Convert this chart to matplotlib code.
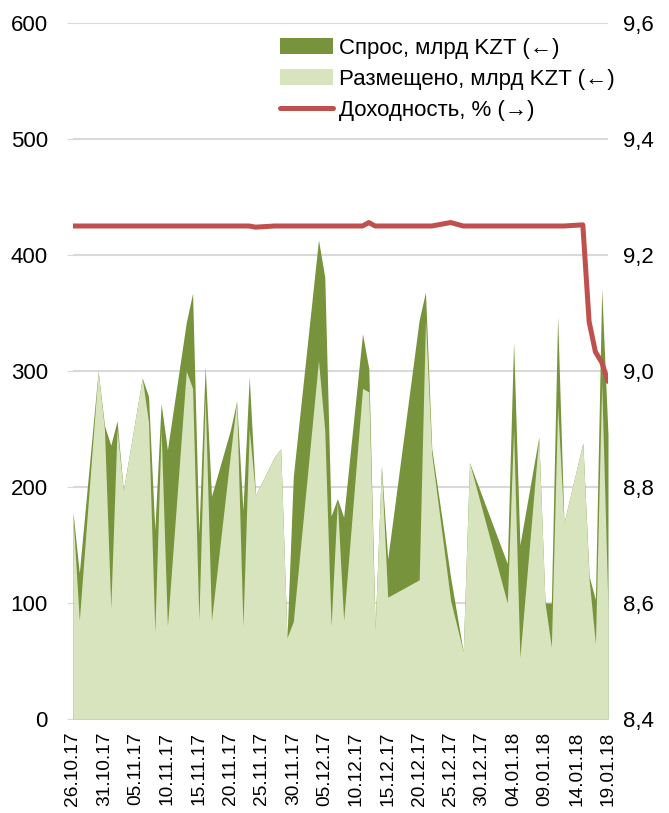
import matplotlib
matplotlib.use("Agg")
import matplotlib.pyplot as plt
import pandas as pd
from matplotlib.patches import Patch
from matplotlib.lines import Line2D
from matplotlib.ticker import FuncFormatter

# trading days (weekends / holidays skipped, Excel date axis joins them with straight lines)
dates = [
    "26.10.17", "27.10.17", "30.10.17", "31.10.17", "01.11.17", "02.11.17", "03.11.17",
    "06.11.17", "07.11.17", "08.11.17", "09.11.17", "10.11.17",
    "13.11.17", "14.11.17", "15.11.17", "16.11.17", "17.11.17",
    "20.11.17", "21.11.17", "22.11.17", "23.11.17", "24.11.17",
    "27.11.17", "28.11.17", "29.11.17", "30.11.17",
    "04.12.17", "05.12.17", "06.12.17", "07.12.17", "08.12.17",
    "11.12.17", "12.12.17", "13.12.17", "14.12.17", "15.12.17",
    "20.12.17", "21.12.17", "22.12.17",
    "25.12.17", "27.12.17", "28.12.17",
    "03.01.18", "04.01.18", "05.01.18",
    "08.01.18", "09.01.18", "10.01.18", "11.01.18", "12.01.18",
    "15.01.18", "16.01.18", "17.01.18", "18.01.18", "19.01.18",
]
demand = [
    178, 126, 300, 253, 236, 257, 197,
    294, 278, 163, 272, 232,
    342, 367, 160, 304, 192,
    249, 274, 180, 295, 193,
    226, 233, 70, 209,
    413, 381, 175, 190, 174,
    332, 302, 78, 218, 138,
    344, 368, 233,
    122, 58, 221,
    134, 325, 150,
    243, 100, 100, 347, 169,
    238, 123, 103, 371, 245,
]
placed = [
    175, 85, 300, 250, 96, 250, 197,
    294, 256, 75, 250, 80,
    300, 285, 85, 278, 85,
    228, 274, 80, 250, 193,
    226, 233, 70, 84,
    309, 249, 80, 188, 85,
    285, 282, 77, 218, 105,
    120, 344, 228,
    102, 58, 221,
    100, 250, 53,
    243, 100, 62, 270, 169,
    238, 120, 65, 290, 95,
]
yield_pct = [
    9.25, 9.25, 9.25, 9.25, 9.25, 9.25, 9.25,
    9.25, 9.25, 9.25, 9.25, 9.25,
    9.25, 9.25, 9.25, 9.25, 9.25,
    9.25, 9.25, 9.25, 9.25, 9.248,
    9.25, 9.25, 9.25, 9.25,
    9.25, 9.25, 9.25, 9.25, 9.25,
    9.25, 9.256, 9.25, 9.25, 9.25,
    9.25, 9.25, 9.25,
    9.256, 9.25, 9.25,
    9.25, 9.25, 9.25,
    9.25, 9.25, 9.25, 9.25, 9.25,
    9.252, 9.085, 9.033, 9.015, 8.982,
]

labels = ["Спрос, млрд KZT (←)", "Размещено, млрд KZT (←)", "Доходность, % (→)"]

DARK = "#77933C"
LIGHT = "#D7E4BD"
RED = "#C0504D"
GRID = "#D9D9D9"

plt.rcParams["font.family"] = ["Liberation Sans", "DejaVu Sans"]
plt.rcParams["font.size"] = 16

x = pd.to_datetime(dates, format="%d.%m.%y")

fig = plt.figure(figsize=(6.69, 8.13), dpi=100)
ax = fig.add_axes([73 / 669, 94 / 813, 535 / 669, 696 / 813])
ax2 = ax.twinx()

ax.fill_between(x, demand, 0, color=DARK, linewidth=0, zorder=2)
ax.fill_between(x, placed, 0, color=LIGHT, linewidth=0, zorder=3)
ax2.plot(x, yield_pct, color=RED, linewidth=3.6, solid_capstyle="round", solid_joinstyle="round")

ax.set_ylim(0, 600)
ax.set_yticks(range(0, 601, 100))
ax.yaxis.grid(True, color=GRID, linewidth=1.5, zorder=0)
ax.set_axisbelow(True)
ax2.set_ylim(8.4, 9.6)
ax2.set_yticks([8.4, 8.6, 8.8, 9.0, 9.2, 9.4, 9.6])
ax2.yaxis.set_major_formatter(FuncFormatter(lambda v, p: f"{v:.1f}".replace(".", ",")))

ticks = pd.date_range(x[0], x[-1], freq="5D")
ax.set_xlim(x[0], x[-1])
ax.set_xticks(ticks)
ax.set_xticklabels([t.strftime("%d.%m.%y") for t in ticks], rotation=90, fontsize=13.8)

for a in (ax, ax2):
    for s in a.spines.values():
        s.set_visible(False)
ax.tick_params(axis="y", length=4, color=GRID, pad=14)
ax.tick_params(axis="x", length=0, pad=9)
ax2.tick_params(axis="y", length=0, pad=10.5)

handles = [
    Patch(facecolor=DARK, edgecolor="none"),
    Patch(facecolor=LIGHT, edgecolor="none"),
    Line2D([], [], color=RED, linewidth=3.6, solid_capstyle="round"),
]
ax2.legend(handles, labels, loc="upper left", bbox_to_anchor=(0.366, 0.995),
           frameon=False, borderpad=0, handlelength=2.4, handleheight=0.75,
           handletextpad=0.25, labelspacing=0.45, fontsize=16)

fig.savefig("out.png", dpi=100, facecolor="white")
